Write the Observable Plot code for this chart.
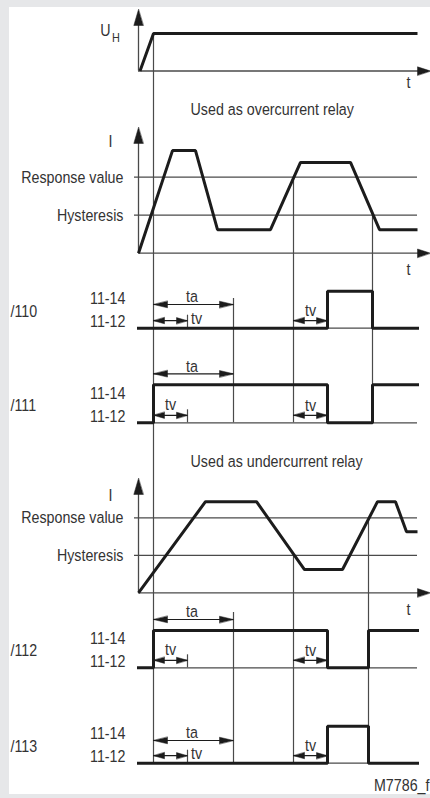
<!DOCTYPE html>
<html><head><meta charset="utf-8">
<script src="https://cdn.jsdelivr.net/npm/d3@7"></script>
<script src="https://cdn.jsdelivr.net/npm/@observablehq/plot@0.6"></script>
<style>
html,body{margin:0;padding:0;background:#e6e7e9;}
#wrap{position:relative;width:430px;height:798px;overflow:hidden;}
#panel{position:absolute;left:9px;top:7px;width:421px;height:787px;background:#fff;}
#chart{position:absolute;left:0;top:0;}
</style></head>
<body><div id="wrap"><div id="panel"></div><div id="chart"></div></div>
<script>
// ---------- data (time units, levels) ----------
const uhTime = [0.15, 1.5, 27.9];
const uhLevel = [0, 1, 1];
const overTime = [0, 3.4, 5.7, 7.9, 13.2, 16.2, 21.2, 24.1, 27.9];
const overLevel = [0, 2.7, 2.7, 0.62, 0.62, 2.39, 2.39, 0.62, 0.62];
const underTime = [0, 6.7, 11.8, 16.6, 20.4, 23.9, 25.7, 26.8, 27.9];
const underLevel = [0, 2.43, 2.43, 0.62, 0.62, 2.43, 2.43, 1.63, 1.63];
const thresholdNames = ["Response value", "Hysteresis"];
const thresholdLevels = [2, 1];
const relayNames = ["/110", "/111", "/112", "/113"];
const contactNames = ["11-14", "11-12"];
const relayTimes = [[0, 18.9, 23.4, 27.9], [0, 1.5, 18.9, 23.4, 27.9], [0, 1.5, 18.9, 23.0, 27.9], [0, 18.9, 23.0, 27.9]];
const relayStates = [[0, 1, 0, 0], [0, 1, 0, 1, 1], [0, 1, 0, 1, 1], [0, 1, 0, 0]];
const powerOn = 1.5, ta = 8.0, tv = 3.4, tEnd = 27.9;
const overEvents = [15.5, 23.4];   // response crossing, hysteresis crossing
const underEvents = [15.5, 23.0];  // hysteresis crossing, response crossing
const titles = ["Used as overcurrent relay", "Used as undercurrent relay"];
const code = "M7786_f";

// ---------- layout ----------
const W = 430, H = 798, X0 = 138, PX = 10;
const tMin = -X0 / PX, tMax = (W - X0) / PX;
const uh = {base: 70.5, unit: 37.5, top: 1.64, tLab: 12};
const over = {base: 252.7, unit: 38, top: 3.31, tLab: 16, iLab: 2.93, title: 109};
const under = {base: 592.3, unit: 37.5, top: 3.05, tLab: 17, iLab: 2.6, title: 461.5};
const relay = [
  {low: 327.7, high: 290.7, taY: 304, tvRight: true},
  {low: 422.3, high: 384.3, taY: 373.3, tvRight: false},
  {low: 667.3, high: 630, taY: 619, tvRight: false},
  {low: 762.7, high: 725.7, taY: 740, tvRight: true}
];
const ay = (p, v) => p.base - v * p.unit;
const ry = (r, s) => s ? r.high : r.low;

const INK = "#1c1c1c", THIN = "#4a4a4a", TXT = "#333";
const FONT = "'Liberation Sans',Arial,sans-serif";
const SQUEEZE = 0.84;

// ---------- derived tables ----------
const uhPts = uhTime.map((t, i) => ({t, y: ay(uh, uhLevel[i])}));
const overPts = overTime.map((t, i) => ({t, y: ay(over, overLevel[i])}));
const underPts = underTime.map((t, i) => ({t, y: ay(under, underLevel[i])}));
const relayPts = relayTimes.flatMap((ts, k) => ts.map((t, i) => ({k, t, y: ry(relay[k], relayStates[k][i])})));

const thrLines = [over, under].flatMap(p => thresholdLevels.map(v => ({y: ay(p, v)})));
const thrText = [over, under].flatMap(p => thresholdLevels.map((v, i) => ({y: ay(p, v), text: thresholdNames[i]})));
const analogs = [uh, over, under];

const vlines = [
  {x: powerOn, y1: ay(uh, 1), y2: relay[3].low},
  {x: powerOn + ta, y1: relay[0].taY - 6, y2: relay[1].low},
  {x: powerOn + ta, y1: relay[2].taY - 7, y2: relay[3].low},
  {x: overEvents[0], y1: ay(over, thresholdLevels[0]), y2: relay[1].low},
  {x: overEvents[1], y1: ay(over, thresholdLevels[1]), y2: relay[1].low},
  {x: underEvents[0], y1: ay(under, thresholdLevels[1]), y2: relay[3].low},
  {x: underEvents[1], y1: ay(under, thresholdLevels[0]), y2: relay[3].low}
];
const taShafts = relay.map(r => ({x1: powerOn, x2: powerOn + ta, y: r.taY}));
const tvShafts = relay.flatMap((r, k) => {
  const e = k < 2 ? overEvents[0] : underEvents[0];
  return [{x1: powerOn, x2: powerOn + tv, y: r.low - 7.5}, {x1: e, x2: e + tv, y: r.low - 7.5}];
});
const tvTicks = relay.map(r => ({x: powerOn + tv, y1: r.low - 13, y2: r.low}));

const axisHeadsH = analogs.map(p => ({x: tMax, y: p.base, rot: 90}));
const axisHeadsV = analogs.map(p => ({x: 0, y: ay(p, p.top), rot: 0}));
const taHeads = relay.flatMap(r => [{x: powerOn, y: r.taY, rot: 270}, {x: powerOn + ta, y: r.taY, rot: 90}]);
const tvHeads = tvShafts.flatMap(s => [{x: s.x1, y: s.y, rot: 270}, {x: s.x2, y: s.y, rot: 90}]);

const tri = {draw(ctx, l, r) { ctx.moveTo(0, -l); ctx.lineTo(-r, 0); ctx.lineTo(r, 0); ctx.closePath(); }};
const heads = (data, len, r) => Plot.vector(data, {x: "x", y: "y", rotate: "rot", length: len, r, anchor: "end", shape: tri, fill: INK, stroke: INK, strokeWidth: 0.5});

const texts = [
  ...relay.map((r, k) => ({x: -12.8, y: r.low - 17, text: relayNames[k], a: "start"})),
  ...relay.flatMap(r => [{x: -1.3, y: r.low - 29.5, text: contactNames[0], a: "end"}, {x: -1.3, y: r.low - 6.5, text: contactNames[1], a: "end"}]),
  ...thrText.map(d => ({x: -1.5, y: d.y, text: d.text, a: "end"})),
  ...[over, under].map(p => ({x: -2.8, y: ay(p, p.iLab), text: "I", a: "middle"})),
  ...analogs.map(p => ({x: 27.0, y: p.base + p.tLab, text: "t", a: "middle"})),
  ...[over, under].map((p, i) => ({x: 5.2, y: p.title, text: titles[i], a: "start"})),
  ...relay.map(r => ({x: powerOn + ta / 2 - 0.15, y: r.taY - 7.5, text: "ta", a: "middle"})),
  ...relay.map(r => r.tvRight ? {x: powerOn + tv + 0.35, y: r.low - 9.7, text: "tv", a: "start"} : {x: powerOn + tv / 2, y: r.low - 18.5, text: "tv", a: "middle"}),
  ...relay.map((r, k) => ({x: (k < 2 ? overEvents[0] : underEvents[0]) + tv / 2, y: r.low - 17.5, text: "tv", a: "middle"})),
  {x: -3.3, y: 30, text: "U", a: "middle"},
  {x: 29.1, y: 785, text: code, a: "end"}
];
const textMark = (anchor) => Plot.text(texts.filter(d => d.a === anchor), {x: "x", y: "y", text: "text", textAnchor: anchor, fill: TXT, fontSize: 17});

const chart = Plot.plot({
  width: W, height: H,
  marginLeft: 0, marginRight: 0, marginTop: 0, marginBottom: 0,
  x: {domain: [tMin, tMax], range: [0, W], axis: null},
  y: {domain: [0, H], range: [0, H], axis: null},
  style: {background: "transparent", fontFamily: FONT, fontSize: "17px", overflow: "visible"},
  marks: [
    Plot.ruleY(thrLines, {x1: -0.4, x2: tEnd, y: "y", stroke: THIN, strokeWidth: 1.2}),
    Plot.ruleY(relay, {x1: 0, x2: tEnd, y: "low", stroke: THIN, strokeWidth: 1.2}),
    Plot.ruleY(analogs, {x1: 0, x2: tMax - 0.5, y: "base", stroke: THIN, strokeWidth: 1.3}),
    Plot.ruleX(analogs.map(p => ({y1: p.base, y2: ay(p, p.top) + 4})), {x: 0, y1: "y1", y2: "y2", stroke: THIN, strokeWidth: 1.3}),
    Plot.ruleX(vlines, {x: "x", y1: "y1", y2: "y2", stroke: THIN, strokeWidth: 1.2}),
    Plot.ruleX(tvTicks, {x: "x", y1: "y1", y2: "y2", stroke: THIN, strokeWidth: 1.2}),
    Plot.ruleY(taShafts, {x1: "x1", x2: "x2", y: "y", stroke: INK, strokeWidth: 1.2}),
    Plot.ruleY(tvShafts, {x1: "x1", x2: "x2", y: "y", stroke: INK, strokeWidth: 1.2}),
    Plot.line(uhPts, {x: "t", y: "y", stroke: INK, strokeWidth: 3, strokeLinejoin: "miter", strokeLinecap: "butt"}),
    Plot.line(overPts, {x: "t", y: "y", stroke: INK, strokeWidth: 3, strokeLinejoin: "miter", strokeLinecap: "butt"}),
    Plot.line(underPts, {x: "t", y: "y", stroke: INK, strokeWidth: 3, strokeLinejoin: "miter", strokeLinecap: "butt"}),
    Plot.line(relayPts, {x: "t", y: "y", z: "k", curve: "step-after", stroke: INK, strokeWidth: 3, strokeLinejoin: "miter", strokeLinecap: "square"}),
    heads(axisHeadsH, 13, 4.2),
    heads(axisHeadsV, 16, 4.7),
    heads(taHeads, 14, 3.3),
    heads(tvHeads, 11, 3.1),
    textMark("start"), textMark("middle"), textMark("end"),
    Plot.text([{x: -2.25, y: 37, text: "H"}], {x: "x", y: "y", text: "text", fill: TXT, fontSize: 13})
  ]
});
// condense the sans face horizontally (narrow type as in the reference)
chart.querySelectorAll("text").forEach(t => {
  const tr = t.getAttribute("transform");
  if (tr) t.setAttribute("transform", tr + ` scale(${SQUEEZE},1)`);
});
document.getElementById("chart").appendChild(chart);
</script>
</body></html>
